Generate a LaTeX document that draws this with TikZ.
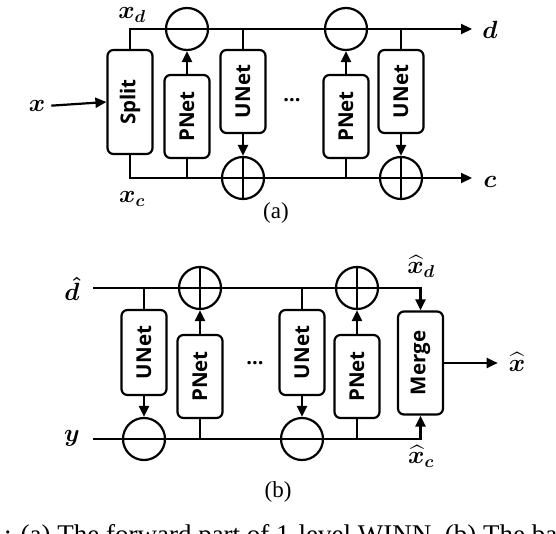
\documentclass[tikz,border=0pt]{standalone}
\usepackage{amsmath,amssymb}
\usepackage{fontspec}
\usepackage{tikz}
\usetikzlibrary{arrows.meta}
\setmainfont{Liberation Serif}
\setsansfont{Open Sans}

\begin{document}
\begin{tikzpicture}[x=1pt,y=-1pt,line width=2.2pt,
    >={Triangle[length=11pt,width=10pt]},
    box/.style={draw,rounded corners=6pt,rotate=90,inner sep=0pt,minimum height=45pt,
      font=\sffamily\bfseries\fontsize{20.5}{20.5}\selectfont},
    op/.style={draw,circle,inner sep=0pt,minimum size=42pt},
    lbl/.style={inner sep=0pt,font=\boldmath\fontsize{25}{25}\selectfont},
    dotsnode/.style={inner sep=0pt,font=\sffamily\bfseries\fontsize{20}{20}\selectfont},
    sublbl/.style={inner sep=0pt,font=\fontsize{23}{23}\selectfont}]
  \path[use as bounding box,clip] (0,0) rectangle (556,534);
  % (a)
  \node[lbl] (x) at (37,106) {$x$};
  \node[box,minimum width=104pt] (split) at (130,102) {Split};
  \node[box,minimum width=83pt] (pnet1) at (187,116.5) {PNet};
  \node[box,minimum width=83pt] (unet1) at (243,91.5) {UNet};
  \node[dotsnode] (dots1) at (292,100) {...};
  \node[box,minimum width=83pt] (pnet2) at (346,116.5) {PNet};
  \node[box,minimum width=83pt] (unet2) at (401,91.5) {UNet};
  \node[op] (m1) at (187,29) {};
  \node[op] (p1) at (243,178) {};
  \node[op] (m2) at (346,29) {};
  \node[op] (p2) at (401,178) {};
  \coordinate (dout) at (472,29);
  \coordinate (cout) at (472,178);
  \node[lbl] (d) at (490,30) {$d$};
  \node[lbl] (c) at (490,182) {$c$};
  \node[lbl] (xd) at (132,15) {$x_d$};
  \node[lbl] (xc) at (132,199) {$x_c$};
  \draw[->,shorten <=5pt] (x.east) to (split.north);
  \draw[->] (split.east) |- (dout);
  \draw[->] (split.west) |- (cout);
  \draw[->] (pnet1) to (m1);
  \draw (pnet1.west) -- (pnet1.west |- cout);
  \draw (unet1.east) -- (unet1.east |- dout);
  \draw[->] (unet1) to (p1);
  \draw (p1.north) -- (p1.south);
  \draw[->] (pnet2) to (m2);
  \draw (pnet2.west) -- (pnet2.west |- cout);
  \draw (unet2.east) -- (unet2.east |- dout);
  \draw[->] (unet2) to (p2);
  \draw (p2.north) -- (p2.south);
  \node[sublbl] (la) at (276,213) {(a)};
  % (b)
  \node[lbl] (dh) at (72,289) {$\hat{d}$};
  \node[lbl] (y) at (72,438) {$y$};
  \coordinate (din) at (93,288);
  \coordinate (yin) at (93,439);
  \node[box,minimum width=85pt] (unet3) at (144,352.5) {UNet};
  \node[box,minimum width=83pt] (pnet3) at (200,376.5) {PNet};
  \node[dotsnode] (dots2) at (255,363) {...};
  \node[box,minimum width=85pt] (unet4) at (302,352.5) {UNet};
  \node[box,minimum width=83pt] (pnet4) at (357,376.5) {PNet};
  \node[box,minimum width=103pt] (merge) at (420.5,363) {Merge};
  \node[op] (m3) at (144,439) {};
  \node[op] (p3) at (200,288) {};
  \node[op] (m4) at (302,439) {};
  \node[op] (p4) at (357,288) {};
  \node[lbl] (xh) at (517,362) {$\widehat{x}$};
  \node[lbl] (xhd) at (421,266) {$\widehat{x}_d$};
  \node[lbl] (xhc) at (421,456) {$\widehat{x}_c$};
  \draw[->] (din) -| (merge.east);
  \draw[->] (yin) -| (merge.west);
  \draw (unet3.east) -- (unet3.east |- din);
  \draw[->] (unet3) to (m3);
  \draw (pnet3.west) -- (pnet3.west |- yin);
  \draw[->] (pnet3) to (p3);
  \draw (p3.north) -- (p3.south);
  \draw (unet4.east) -- (unet4.east |- din);
  \draw[->] (unet4) to (m4);
  \draw (pnet4.west) -- (pnet4.west |- yin);
  \draw[->] (pnet4) to (p4);
  \draw (p4.north) -- (p4.south);
  \draw[->,shorten >=10pt] (merge.south) to (merge.south -| xh.west);
  \node[sublbl] (lb) at (278,492) {(b)};
  \node[anchor=base west,inner sep=0pt,font=\fontsize{27}{27}\selectfont] (caption) at (3,543)
    {: (a) The forward part of 1-level WINN. (b) The backward part of 1-level WINN.};
\end{tikzpicture}
\end{document}
